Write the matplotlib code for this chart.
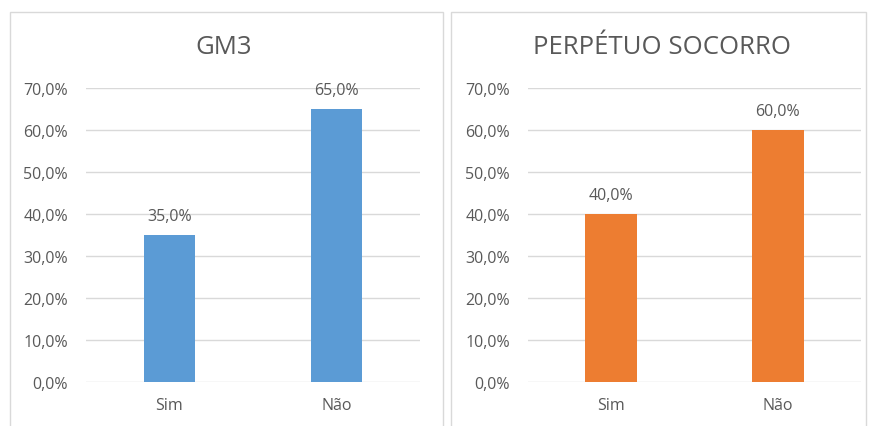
import matplotlib.pyplot as plt
from matplotlib.patches import Rectangle
from matplotlib.ticker import FuncFormatter
import numpy as np

categories = ["Sim", "Não"]
titles = ["GM3", "PERPÉTUO SOCORRO"]
gm3_values = [35.0, 65.0]
perpetuo_values = [40.0, 60.0]
colors = ["#5B9BD5", "#ED7D31"]
yticks = np.arange(0, 71, 10)

plt.rcParams["font.family"] = ["Open Sans", "DejaVu Sans"]
TEXT = "#595959"

W, H = 874, 427
fig = plt.figure(figsize=(W / 100, H / 100), dpi=100)

# panel frames (x0, x1 in pixels)
for x0, x1 in [(10, 443), (451, 866)]:
    fig.patches.append(Rectangle((x0 / W, -0.05), (x1 - x0) / W, 1.05 - 13 / H,
                                 transform=fig.transFigure, fill=False,
                                 edgecolor="#d9d9d9", linewidth=1))

axes_px = [(86, 420), (528, 861)]
title_x = [224, 662]
series = [gm3_values, perpetuo_values]

for i, (vals, (ax0, ax1)) in enumerate(zip(series, axes_px)):
    ax = fig.add_axes([ax0 / W, 1 - 383 / H, (ax1 - ax0) / W, (383 - 89) / H])
    x = np.arange(len(categories))
    ax.bar(x, vals, width=0.31, color=colors[i], zorder=3)
    for xi, v in zip(x, vals):
        ax.annotate(f"{v:.1f}%".replace(".", ","), (xi, v), xytext=(0, 8),
                    textcoords="offset points", ha="center", va="bottom",
                    fontsize=11.5, color=TEXT)
    ax.set_xlim(-0.5, 1.5)
    ax.set_ylim(0, 70)
    ax.set_yticks(yticks)
    ax.yaxis.set_major_formatter(FuncFormatter(lambda v, p: f"{v:.1f}%".replace(".", ",")))
    ax.set_xticks(x)
    ax.set_xticklabels(categories)
    ax.grid(axis="y", color="#d9d9d9", linewidth=1, zorder=0)
    for s in ax.spines.values():
        s.set_visible(False)
    ax.tick_params(length=0, labelsize=11.5, colors=TEXT)
    ax.tick_params(axis="y", pad=13)
    ax.tick_params(axis="x", pad=11)
    fig.text(title_x[i] / W, 1 - 47 / H, titles[i], ha="center", va="center",
             fontsize=18.5, color=TEXT)

fig.savefig("out.png", dpi=100)
